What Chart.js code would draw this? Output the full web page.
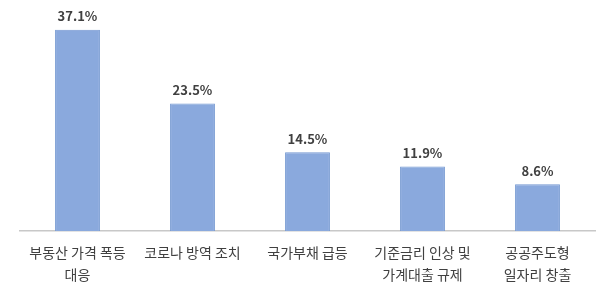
<!DOCTYPE html>
<html>
<head>
<meta charset="utf-8">
<script src="https://cdn.jsdelivr.net/npm/chart.js@4.4.1/dist/chart.umd.min.js"></script>
<style>
  html, body { margin: 0; padding: 0; background: #ffffff; }
  #wrap { width: 600px; height: 293px; position: relative; }
</style>
</head>
<body>
<div id="wrap"><canvas id="c"></canvas></div>
<script>
const categories = [
  ['부동산 가격 폭등', '대응'],
  '코로나 방역 조치',
  '국가부채 급등',
  ['기준금리 인상 및', '가계대출 규제'],
  ['공공주도형', '일자리 창출']
];
const values = [37.1, 23.5, 14.5, 11.9, 8.6];
const valueLabels = ['37.1%', '23.5%', '14.5%', '11.9%', '8.6%'];

const FONT = '"Noto Sans CJK KR", "Malgun Gothic", sans-serif';

const valueLabelPlugin = {
  id: 'valueLabels',
  afterDatasetsDraw(chart) {
    const ctx = chart.ctx;
    const meta = chart.getDatasetMeta(0);
    ctx.save();
    ctx.font = 'bold 13px ' + FONT;
    ctx.fillStyle = '#404040';
    ctx.textAlign = 'center';
    ctx.textBaseline = 'bottom';
    meta.data.forEach((bar, i) => {
      ctx.fillText(valueLabels[i], bar.x, bar.y - 7);
    });
    ctx.restore();
  }
};

new Chart(document.getElementById('c'), {
  type: 'bar',
  data: {
    labels: categories,
    datasets: [{
      data: values,
      backgroundColor: '#8aa9dd',
      borderColor: '#7397d1',
      borderWidth: 1,
      barPercentage: 0.39,
      categoryPercentage: 1.0
    }]
  },
  options: {
    responsive: true,
    maintainAspectRatio: false,
    animation: false,
    layout: { padding: { left: 20, right: 5, top: 14, bottom: 4 } },
    plugins: {
      legend: { display: false },
      tooltip: { enabled: false }
    },
    scales: {
      y: {
        display: false,
        min: 0,
        max: 40
      },
      x: {
        afterFit(scale) { scale.height = 58; },
        grid: { display: true, drawOnChartArea: false, drawTicks: false },
        border: { display: true, color: '#c8c8c8', width: 1.5 },
        ticks: {
          autoSkip: false,
          maxRotation: 0,
          minRotation: 0,
          padding: 10,
          color: '#404040',
          font: { family: FONT, size: 14, lineHeight: 1.6 }
        }
      }
    }
  },
  plugins: [valueLabelPlugin]
});
</script>
</body>
</html>
